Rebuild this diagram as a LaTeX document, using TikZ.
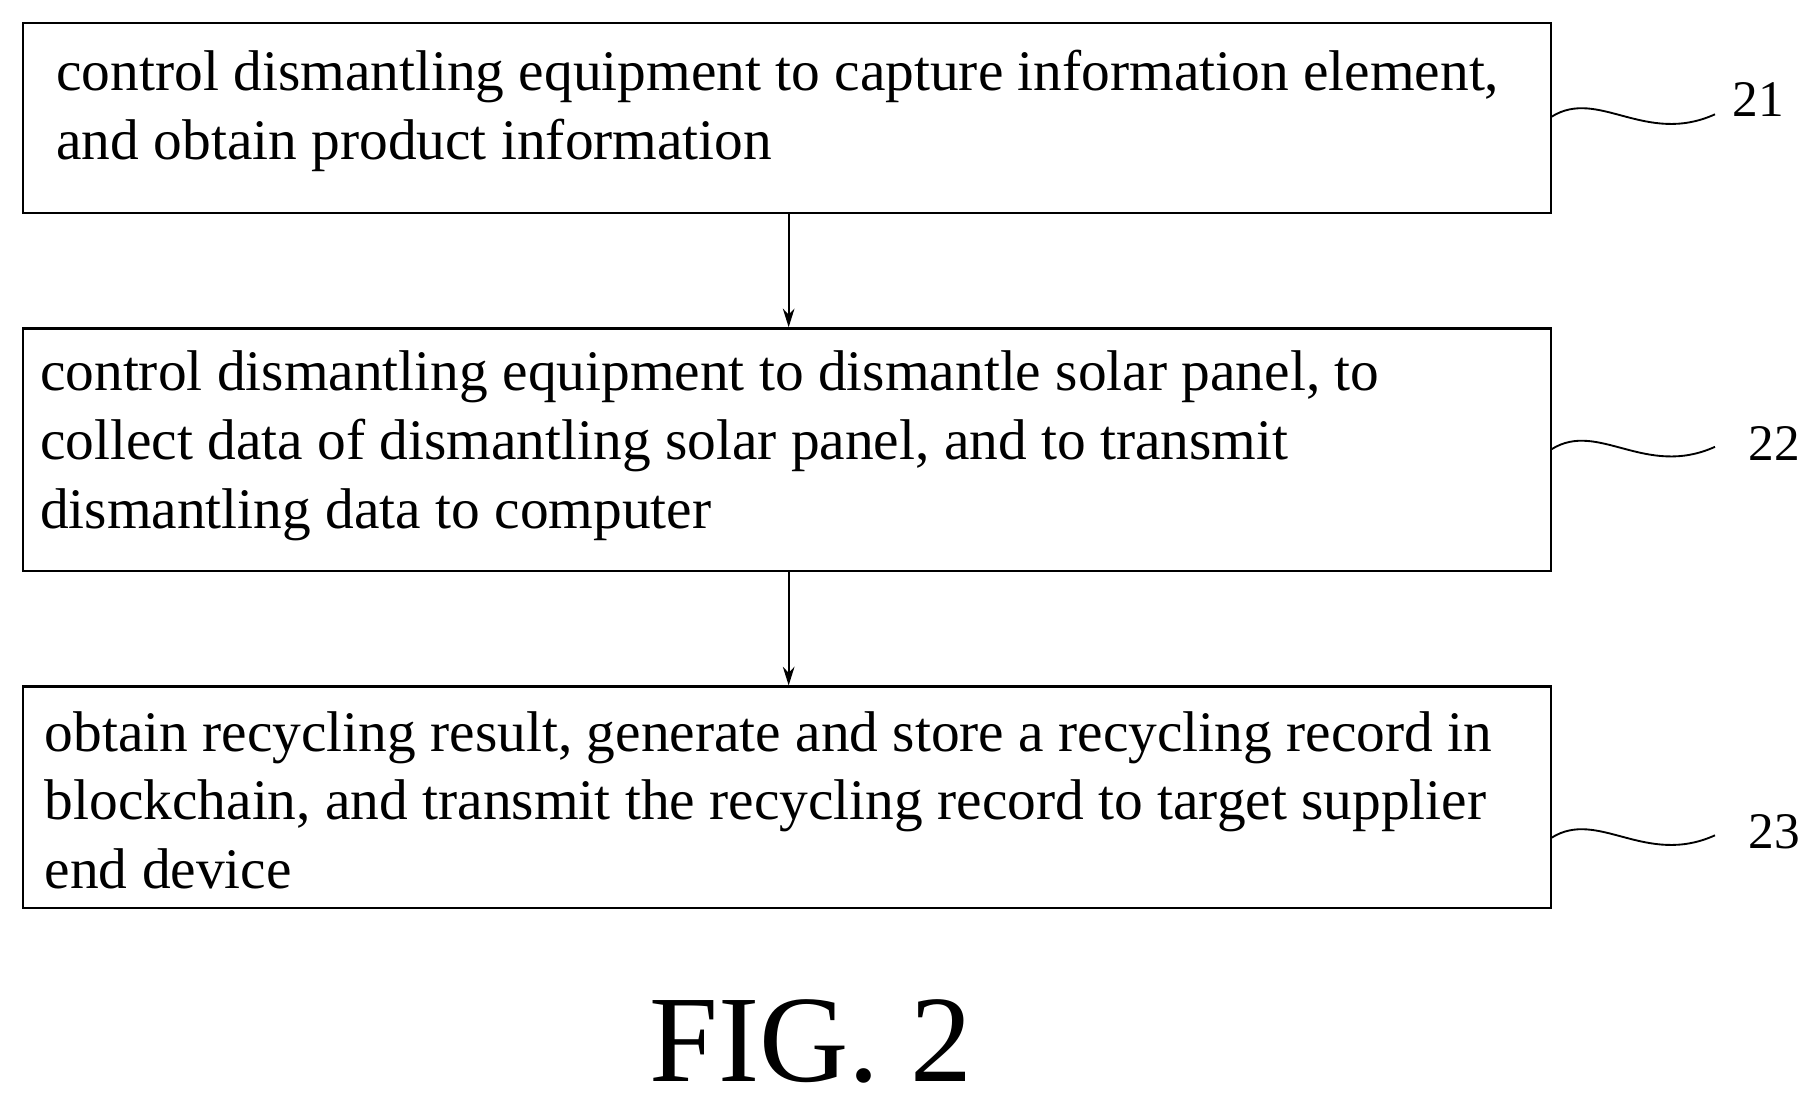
\documentclass[tikz,border=0pt]{standalone}
\usepackage{fontspec}
\setmainfont{Liberation Serif}
\usetikzlibrary{calc,arrows.meta}
\begin{document}
\begin{tikzpicture}[x=0.5pt,y=-0.5pt,
  box/.style={draw,line width=1pt},
  txt/.style={anchor=west,align=left,font=\fontsize{24.6}{29.5}\selectfont,inner sep=0pt},
  lbl/.style={font=\fontsize{22}{26}\selectfont,inner sep=0pt},
  arr/.style={-{Stealth[length=8pt,width=5pt]},line width=0.8pt}]
\useasboundingbox (0,0) rectangle (1560,945);
\node[box,minimum width=655pt,minimum height=81.5pt,anchor=north west] (b1) at (18.5,18.5) {};
\node[box,minimum width=655pt,minimum height=104pt,anchor=north west] (b2) at (18.5,280.5) {};
\node[box,minimum width=655pt,minimum height=95pt,anchor=north west] (b3) at (18.5,587.5) {};
\node[txt] (t1) at (48,95) {control dismantling equipment to capture information element,\\and obtain product information};
\node[txt] (t2) at (34,382) {control dismantling equipment to dismantle solar panel, to\\collect data of dismantling solar panel, and to transmit\\dismantling data to computer};
\node[txt] (t3) at (38,686) {obtain recycling result, generate and store a recycling record in\\blockchain, and transmit the recycling record to target supplier\\end device};
\draw[arr] (b1.south -| 676,0) -- (b2.north -| 676,0);
\draw[arr] (b2.south -| 676,0) -- (b3.north -| 676,0);
\node[lbl] (l1) at (1507,85) {21};
\node[lbl] (l2) at (1521,380) {22};
\node[lbl] (l3) at (1521,713) {23};
\coordinate (w1) at (1330,100);
\coordinate (w2) at (1330,385);
\coordinate (w3) at (1330,718);
\foreach \w/\l in {w1/l1,w2/l2,w3/l3}{
  \draw[line width=0.8pt] (\w) .. controls ($(\w)+(40,-25)$) and ($(\w)+(80,25)$) .. ($(\w)+(140,-2)$);
}
\node[font=\fontsize{53}{56}\selectfont,inner sep=0pt] (fig) at (695,893) {FIG. 2};
\end{tikzpicture}
\end{document}
